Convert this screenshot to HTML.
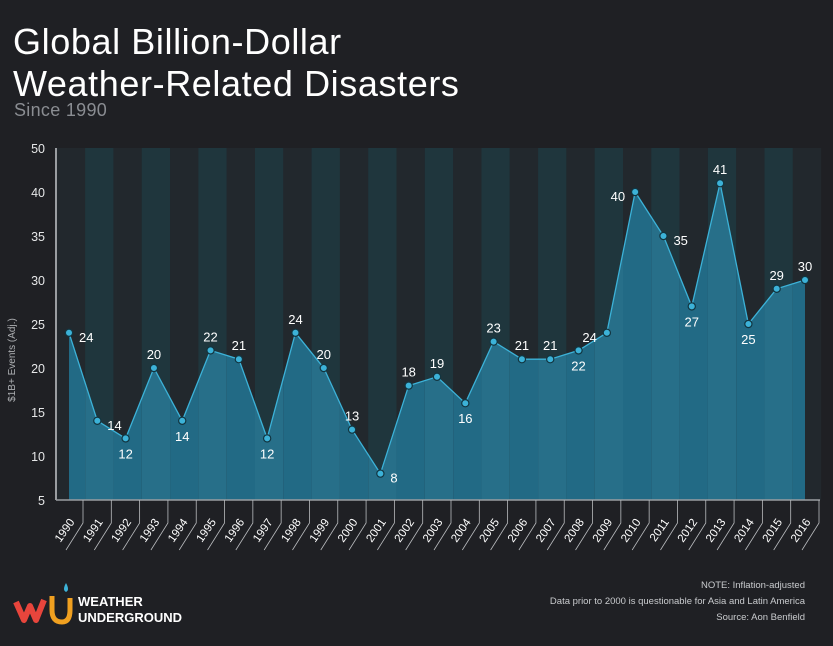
<!DOCTYPE html>
<html><head><meta charset="utf-8"><style>
body{margin:0;background:#1f2024;width:833px;height:646px;overflow:hidden;font-family:"Liberation Sans",sans-serif;}
#t{position:absolute;left:13px;top:21px;color:#fff;font-size:36px;line-height:42px;font-weight:normal;letter-spacing:0.6px}
#s{position:absolute;left:14px;top:100px;color:#8a8d92;font-size:18px;letter-spacing:0.3px}
svg{position:absolute;left:0;top:0}
.note{position:absolute;right:28px;top:578px;color:#c9cbce;font-size:9.5px;text-align:right;line-height:16px}
</style></head><body>
<div id="t">Global Billion-Dollar<br>Weather-Related Disasters</div>
<div id="s">Since 1990</div>
<svg id="c" width="833" height="646"></svg>
<div class="note">NOTE: Inflation-adjusted<br>Data prior to 2000 is questionable for Asia and Latin America<br>Source: Aon Benfield</div>
<script>
const years=[1990,1991,1992,1993,1994,1995,1996,1997,1998,1999,2000,2001,2002,2003,2004,2005,2006,2007,2008,2009,2010,2011,2012,2013,2014,2015,2016];
const events=[24,14,12,20,14,22,21,12,24,20,13,8,18,19,16,23,21,21,22,24,40,35,27,41,25,29,30];
const tickValues=[5,10,15,20,25,30,35,40,45];
const tickLabels=["5","10","15","20","25","30","35","40","50"];
// label placement: 0 right,1 below,2 above,3 left
const labelPos=[0,0,1,2,1,2,2,1,2,2,2,0,2,2,1,2,2,2,1,3,3,0,1,2,1,2,2];
const NS="http://www.w3.org/2000/svg";
const svg=document.getElementById('c');
const L=56,R=820,T=148,B=500,x0=69,step=(805-69)/26;
const x=i=>x0+i*step;
const y=v=>B-(v-5)*(B-T)/40;
function mk(t,a,p){const e=document.createElementNS(NS,t);for(const k in a)e.setAttribute(k,a[k]);(p||svg).appendChild(e);return e;}
mk('rect',{x:L,y:T,width:R-L,height:B-T,fill:'#22282d'});
years.forEach((yr,i)=>{
 const b=mk('rect',{x:Math.max(L,x(i)-step/2+2),y:T,width:step,height:B-T,fill:i%2?'#1f363d':'#22282d'});
 
 
});
const clip=mk('clipPath',{id:'ac'});
let d='M'+x(0)+','+B;events.forEach((v,i)=>d+='L'+x(i)+','+y(v));d+='L'+x(events.length-1)+','+B+'Z';
mk('path',{d:d},clip);
const g=mk('g',{'clip-path':'url(#ac)'});
years.forEach((yr,i)=>{mk('rect',{x:x(i)-step/2+2,y:T,width:step,height:B-T,fill:i%2?'#276f89':'#226a85'},g);});
let ld='';events.forEach((v,i)=>ld+=(i?'L':'M')+x(i)+','+y(v));
const line=mk('path',{d:ld,fill:'none',stroke:'#3cb2d8','stroke-width':1.3});


mk('line',{x1:L,y1:T,x2:L,y2:B,stroke:'#9a9da1','stroke-width':2});
mk('line',{x1:L,y1:B,x2:R,y2:B,stroke:'#9a9da1','stroke-width':1.5});
tickValues.forEach((v,i)=>{
 const t=mk('text',{x:45,y:y(v)+5,fill:'#e6e7e8','font-size':12.5,'text-anchor':'end'});t.textContent=tickLabels[i];
 
 
});
const yt=mk('text',{x:0,y:0,fill:'#aeb0b3','font-size':10,'text-anchor':'middle',transform:'translate(15,360) rotate(-90)'});
yt.textContent='$1B+ Events (Adj.)';


events.forEach((v,i)=>{
 const cx=x(i),cy=y(v);
 const p=mk('circle',{cx:cx,cy:cy,r:3.6,fill:'#3cb2d8',stroke:'#123540','stroke-width':1.2});
 
 
 const lp=labelPos[i];let lx=cx,ly=cy,an='middle';
 if(lp==0){lx=cx+10;ly=cy+9;an='start';}else if(lp==1){ly=cy+20;}else if(lp==2){ly=cy-9;}else{lx=cx-10;ly=cy+9;an='end';}
 const t=mk('text',{x:lx,y:ly,fill:'#fff','font-size':13,'text-anchor':an});t.textContent=v;
 
 
 mk('path',{d:'M'+(cx+14)+','+B+'V'+(B+23)+'L'+(cx-3)+','+(B+50),stroke:'#b9bbbe','stroke-width':0.8,fill:'none'});
 const xt=mk('text',{x:0,y:0,fill:'#fff','font-size':11.5,'text-anchor':'end',transform:'translate('+(cx+6)+','+(B+22)+') rotate(-55)'});
 xt.textContent=years[i];
 
 
});
// logo
const lg=mk('g',{});


mk('path',{d:'M16,602 L24,620 L30,606 L36,620 L44,600',stroke:'#e8453c','stroke-width':6,fill:'none','stroke-linejoin':'round'},lg);
mk('path',{d:'M52,596 V610 Q52,622 62,622 Q70,622 70,610 V598',stroke:'#f0a020','stroke-width':5,fill:'none'},lg);
mk('path',{d:'M66,583 Q70,590 66,592 Q62,590 66,583Z',fill:'#3cb2d8'},lg);
const w1=mk('text',{x:78,y:606,fill:'#fff','font-size':13,'font-weight':'bold'},lg);w1.textContent='WEATHER';
const w2=mk('text',{x:78,y:622,fill:'#fff','font-size':13,'font-weight':'bold'},lg);w2.textContent='UNDERGROUND';
</script>
</body></html>
